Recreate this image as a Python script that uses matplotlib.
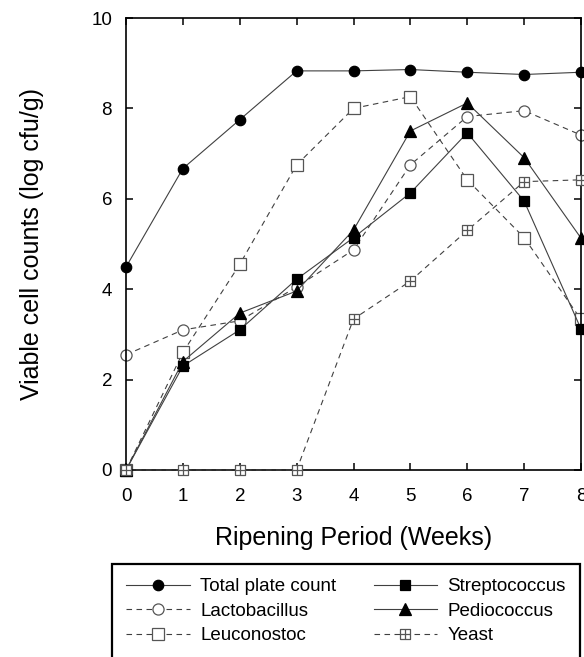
import matplotlib
matplotlib.use('Agg')
import matplotlib.pyplot as plt
from matplotlib.path import Path

plt.rcParams['font.family'] = ['Liberation Sans', 'DejaVu Sans']

weeks = [0, 1, 2, 3, 4, 5, 6, 7, 8]
total_plate = [4.49, 6.67, 7.75, 8.83, 8.83, 8.86, 8.80, 8.75, 8.80]
streptococcus = [0, 2.30, 3.10, 4.22, 5.14, 6.13, 7.46, 5.95, 3.12]
lactobacillus = [2.55, 3.10, 3.30, 4.05, 4.87, 6.75, 7.82, 7.95, 7.41]
pediococcus = [0, 2.40, 3.47, 3.96, 5.31, 7.50, 8.12, 6.91, 5.13]
leuconostoc = [0, 2.60, 4.55, 6.75, 8.00, 8.26, 6.42, 5.14, 3.33]
yeast = [0, 0, 0, 0, 3.34, 4.18, 5.30, 6.38, 6.42]

# square with a cross inside, for the yeast marker
_v = [(-1, -1), (1, -1), (1, 1), (-1, 1), (-1, -1),
      (0, -1), (0, 1), (-1, 0), (1, 0)]
_c = [Path.MOVETO, Path.LINETO, Path.LINETO, Path.LINETO, Path.LINETO,
      Path.MOVETO, Path.LINETO, Path.MOVETO, Path.LINETO]
box_cross = Path(_v, _c)

dash = (0, (5, 4))
line_col = '#404040'
open_col = '#555555'

# legend fills column by column, so this order gives the reference rows
series = [
    ('Total plate count', total_plate, dict(marker='o', ls='-', mfc='black', mec='black', ms=7.5)),
    ('Lactobacillus', lactobacillus, dict(marker='o', ls=dash, mfc='white', mec=open_col, ms=8)),
    ('Leuconostoc', leuconostoc, dict(marker='s', ls=dash, mfc='white', mec=open_col, ms=8)),
    ('Streptococcus', streptococcus, dict(marker='s', ls='-', mfc='black', mec='black', ms=7)),
    ('Pediococcus', pediococcus, dict(marker='^', ls='-', mfc='black', mec='black', ms=8)),
    ('Yeast', yeast, dict(marker=box_cross, ls=dash, mfc='white', mec=open_col, ms=7.5, zorder=4)),
]

fig = plt.figure(figsize=(5.84, 6.57), dpi=100)
ax = fig.add_axes([126 / 584, 187 / 657, 455 / 584, 452 / 657])

handles = []
for name, vals, style in series:
    h, = ax.plot(weeks, vals, color=line_col, lw=0.8, mew=0.9,
                 clip_on=False, label=name, **style)
    handles.append(h)

ax.set_xlim(0, 8)
ax.set_ylim(0, 10)
ax.set_xticks(weeks)
ax.set_yticks([0, 2, 4, 6, 8, 10])
ax.tick_params(direction='in', length=5, width=1.1, top=True, right=True,
               labelsize=13.5)
ax.tick_params(axis='x', pad=13)
ax.tick_params(axis='y', pad=10)
for s in ax.spines.values():
    s.set_linewidth(1.2)

ax.set_xlabel('Ripening Period (Weeks)', fontsize=18, labelpad=15)
ax.set_ylabel('Viable cell counts (log cfu/g)', fontsize=18, labelpad=34)

leg = fig.legend(handles=handles, ncol=2, loc='upper left', mode='expand',
                 bbox_to_anchor=(112 / 584, 2 / 657, 468 / 584, 91 / 657),
                 bbox_transform=fig.transFigure,
                 fontsize=13.5, handlelength=3.4, handletextpad=0.55,
                 columnspacing=1.5, labelspacing=0.4, borderpad=0.75,
                 borderaxespad=0, fancybox=False, framealpha=1)
leg.get_frame().set_edgecolor('black')
leg.get_frame().set_linewidth(1.6)

fig.savefig('out.png', dpi=100)
